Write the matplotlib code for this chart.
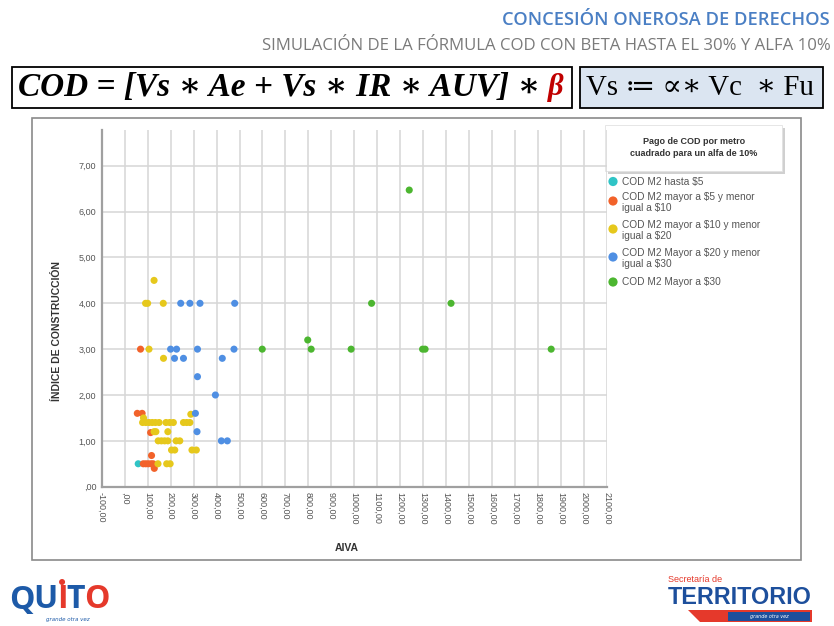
import matplotlib
matplotlib.use("Agg")
import matplotlib.pyplot as plt
from matplotlib.patches import Rectangle, Polygon, Circle

# ---- data: AIVA vs construction index, grouped by COD per m2 ----
teal_x = [59]
teal_y = [0.5]

orange_x = [55, 76, 69, 113, 117, 129, 81, 92, 103, 115, 124]
orange_y = [1.6, 1.6, 3.0, 1.18, 0.68, 0.4, 0.5, 0.5, 0.5, 0.5, 0.5]

yellow_x = [128, 91, 100, 168, 106, 169, 288, 82,
            78, 92, 106, 120, 134, 150, 180, 196, 212, 256, 270, 284,
            128, 136, 188,
            146, 160, 174, 188, 224, 240,
            204, 218, 293, 312,
            145, 183, 198]
yellow_y = [4.5, 4.0, 4.0, 4.0, 3.0, 2.8, 1.58, 1.5,
            1.4, 1.4, 1.4, 1.4, 1.4, 1.4, 1.4, 1.4, 1.4, 1.4, 1.4, 1.4,
            1.2, 1.2, 1.2,
            1.0, 1.0, 1.0, 1.0, 1.0, 1.0,
            0.8, 0.8, 0.8, 0.8,
            0.5, 0.5, 0.5]

blue_x = [244, 284, 328, 479, 200, 226, 317, 476, 217, 256, 425,
          317, 395, 308, 315, 421, 447]
blue_y = [4.0, 4.0, 4.0, 4.0, 3.0, 3.0, 3.0, 3.0, 2.8, 2.8, 2.8,
          2.4, 2.0, 1.6, 1.2, 1.0, 1.0]

green_x = [599, 797, 812, 986, 1075, 1239, 1297, 1308, 1421, 1857]
green_y = [3.0, 3.2, 3.0, 3.0, 4.0, 6.47, 3.0, 3.0, 4.0, 3.0]

series_labels = [
    ["COD M2 hasta $5"],
    ["COD M2 mayor a $5 y menor", "igual a $10"],
    ["COD M2 mayor a $10 y menor", "igual a $20"],
    ["COD M2 Mayor a $20 y menor", "igual a $30"],
    ["COD M2 Mayor a $30"],
]
series_colors = ["#2fc4c6", "#f2622a", "#e6c81c", "#4f8fe3", "#4cb630"]

x_ticks = list(range(-100, 2101, 100))
y_ticks = [0, 1, 2, 3, 4, 5, 6, 7]


def fmt(v):
    s = f"{v:.2f}".replace(".", ",")
    return ",00" if v == 0 else s


W, H = 834, 626
fig = plt.figure(figsize=(W / 100, H / 100), dpi=100)
fig.patch.set_facecolor("white")

# full-figure overlay in pixel units for titles, boxes and logos
bg = fig.add_axes([0, 0, 1, 1], zorder=0)
bg.set_xlim(0, W)
bg.set_ylim(H, 0)
bg.axis("off")


def fit(t, width):
    r = fig.canvas.get_renderer()
    w = t.get_window_extent(r).width
    t.set_fontsize(t.get_fontsize() * width / w)
    return t


def width_of(t):
    return t.get_window_extent(fig.canvas.get_renderer()).width


# titles
fit(bg.text(830, 20, "CONCESIÓN ONEROSA DE DERECHOS", ha="right", va="center",
            family="Open Sans", fontweight="semibold", color="#4a7fc4", fontsize=12), 326)
fit(bg.text(831, 46, "SIMULACIÓN DE LA FÓRMULA COD CON BETA HASTA EL 30% Y ALFA 10%",
            ha="right", va="center", family="Open Sans", color="#7a7a7a", fontsize=10), 570)

# formula boxes
bg.add_patch(Rectangle((12, 67), 560, 41, fc="white", ec="black", lw=1.3))
bg.add_patch(Rectangle((580, 67), 243, 41, fc="#dbe5f1", ec="black", lw=1.3))
serif = ["Liberation Serif", "DejaVu Serif", "DejaVu Sans"]
fit(bg.text(18, 88, "COD = [Vs ∗ Ae + Vs ∗ IR ∗ AUV] ∗", ha="left", va="center",
            family=serif, fontweight="bold", style="italic", fontsize=22), 522)
bg.text(548, 88, "β", ha="left", va="center", family=serif, fontweight="bold",
        style="italic", fontsize=22, color="#c00000")
fit(bg.text(586, 88, "Vs ≔ ∝∗ Vc  ∗ Fu", ha="left", va="center",
            family=serif, fontsize=20), 228)

# chart frame
bg.add_patch(Rectangle((32, 118), 769, 442, fc="white", ec="#8a8a8a", lw=1.2))

# scatter axes
x0, x1, y0, y1 = 101.7, 607.0, 486.7, 130.0
ax = fig.add_axes([x0 / W, 1 - y0 / H, (x1 - x0) / W, (y0 - y1) / H], zorder=2)
ax.patch.set_alpha(0)
ax.set_xlim(-100, 2100)
ax.set_ylim(0, 7.78)
ax.set_xticks(x_ticks)
ax.set_xticklabels([fmt(v) for v in x_ticks], rotation=270, fontsize=6.5,
                   color="#555555", family="Liberation Sans")
ax.set_yticks(y_ticks)
ax.set_yticklabels([fmt(v) for v in y_ticks], fontsize=6.5, color="#555555",
                   family="Liberation Sans")
ax.tick_params(length=0, pad=4)
ax.grid(True, color="#d6d6d6", lw=1.1)
ax.set_axisbelow(True)
for s in ["top", "right"]:
    ax.spines[s].set_visible(False)
for s in ["left", "bottom"]:
    ax.spines[s].set_color("#a0a0a0")
    ax.spines[s].set_linewidth(1.6)

groups = [(teal_x, teal_y), (orange_x, orange_y), (yellow_x, yellow_y),
          (blue_x, blue_y), (green_x, green_y)]
for (gx, gy), c in zip(groups, series_colors):
    ax.scatter(gx, gy, s=26, color=c, edgecolors="none", zorder=3)

ax.set_xlabel("AIVA", fontsize=7.5, fontweight="bold", color="#333333",
              family="Liberation Sans")
ax.xaxis.set_label_coords((347 - x0) / (x1 - x0), -(543 - y0) / (y0 - y1))
ax.set_ylabel("ÍNDICE DE CONSTRUCCIÓN", fontsize=7.5, fontweight="bold",
              color="#333333", family="Liberation Sans")
ax.yaxis.set_label_coords(-(x0 - 62) / (x1 - x0), (y0 - 331) / (y0 - y1))

# legend
bg.add_patch(Rectangle((608, 128), 177, 46, fc="#d0d0d0", ec="none"))
bg.add_patch(Rectangle((605, 125), 177, 46, fc="white", ec="#e2e2e2", lw=0.6))
bg.text(694, 141, "Pago de COD por metro", ha="center", va="center",
        fontsize=6.5, fontweight="bold", color="#333333", family="Liberation Sans")
bg.text(694, 154, "cuadrado para un alfa de 10%", ha="center", va="center",
        fontsize=6.5, fontweight="bold", color="#333333", family="Liberation Sans")
row_y = [181.5, 201, 229, 257, 282]
for lines, c, yy in zip(series_labels, series_colors, row_y):
    bg.add_patch(Circle((613, yy), 4.6, fc=c, ec="none"))
    if len(lines) == 1:
        bg.text(622, yy, lines[0], ha="left", va="center", fontsize=7.3,
                color="#555555", family="Liberation Sans")
    else:
        bg.text(622, yy - 3.5, lines[0], ha="left", va="center", fontsize=7.3,
                color="#555555", family="Liberation Sans")
        bg.text(622, yy + 7, lines[1], ha="left", va="center", fontsize=7.3,
                color="#555555", family="Liberation Sans")

# Quito logo: letters laid out one after another
quito = [("Q", "#1d5aa8"), ("U", "#1d5aa8"), ("I", "#e5392b"),
         ("T", "#1d5aa8"), ("O", "#e5392b")]
xx = 9
i_center = None
for ch, c in quito:
    t = bg.text(xx, 600, ch, ha="left", va="center", fontsize=23, fontweight="bold",
                family="Open Sans", color=c)
    w = width_of(t)
    if ch == "I":
        i_center = xx + w / 2
    xx += w - 1
bg.add_patch(Circle((i_center, 582), 3, fc="#e5392b", ec="none"))
bg.text(68, 619, "grande otra vez", ha="center", va="center", fontsize=4,
        style="italic", color="#1d5aa8", family="DejaVu Sans")

# Secretaría de Territorio logo
bg.text(668, 580, "Secretaría de", ha="left", va="center", fontsize=6.5,
        color="#e5392b", family="Liberation Sans")
fit(bg.text(668, 598, "TERRITORIO", ha="left", va="center", fontsize=14,
            fontweight="bold", color="#1d4f9c", family="Liberation Sans"), 144)
bg.add_patch(Polygon([(688, 610), (812, 610), (812, 622), (700, 622)],
                     closed=True, fc="#e5392b", ec="none"))
bg.add_patch(Rectangle((728, 612), 82, 9, fc="#1d4f9c", ec="none"))
bg.text(769, 616.5, "grande otra vez", ha="center", va="center", fontsize=3.5,
        style="italic", color="white", family="DejaVu Sans")

fig.savefig("out.png", dpi=100, facecolor="white")
